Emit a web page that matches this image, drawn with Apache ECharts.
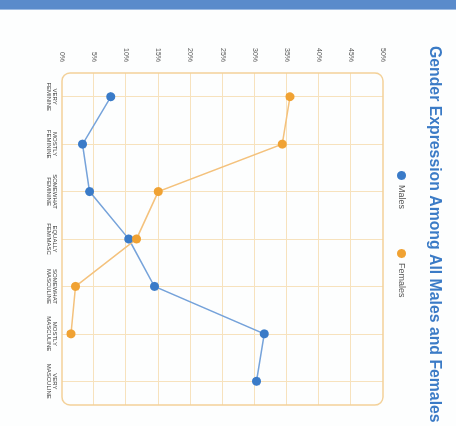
<!DOCTYPE html>
<html>
<head>
<meta charset="utf-8">
<script src="https://cdn.jsdelivr.net/npm/echarts@6/dist/echarts.min.js"></script>
<style>
html,body{margin:0;padding:0;width:456px;height:426px;overflow:hidden;background:#fdfefe;}
#c{position:absolute;left:0;top:0;width:426px;height:456px;transform-origin:0 0;transform:translateX(456px) rotate(90deg);}
</style>
</head>
<body>
<div id="c"></div>
<script>
const categories = ["VERY FEMININE","MOSTLY FEMININE","SOMEWHAT FEMININE","EQUALLY FEM/MASC","SOMEWHAT MASCULINE","MOSTLY MASCULINE","VERY MASCULINE"];
const males = [7.6, 3.2, 4.3, 10.4, 14.4, 31.5, 30.3];
const females = [35.5, 34.3, 15.0, 11.6, 2.1, 1.4, null];
const valueTicks = {min: 0, max: 50, interval: 5};

const toPairs = arr => arr.map((v, i) => [i, v]).filter(p => p[1] !== null);

const chart = echarts.init(document.getElementById('c'));
chart.setOption({
  backgroundColor: '#fdfefe',
  animation: false,
  title: {
    text: 'Gender Expression Among All Males and Females',
    left: 41, top: 9,
    textStyle: {fontFamily: 'Liberation Sans', fontWeight: 'bold', fontSize: 15.8, color: '#3b7bc6'}
  },
  legend: {
    left: 166, top: 45,
    icon: 'circle', itemWidth: 9, itemHeight: 9, itemGap: 40,
    textStyle: {fontFamily: 'Liberation Sans', fontSize: 9, color: '#555'},
    data: ['Males', 'Females']
  },
  grid: {left: 73, right: 21, top: 73, bottom: 62},
  xAxis: {
    type: 'value', min: -0.5, max: categories.length - 0.5,
    axisLine: {show: false}, axisTick: {show: false},
    axisLabel: {
      margin: 4, fontSize: 6, lineHeight: 6.5, color: '#444', fontFamily: 'Liberation Sans',
      formatter: v => Number.isInteger(v) && categories[v] ? categories[v].replace(' ', '\n') : ''
    },
    splitLine: {show: true, showMinLine: false, showMaxLine: false, lineStyle: {color: '#f7e2bd', width: 1}}
  },
  yAxis: {
    type: 'value', min: valueTicks.min, max: valueTicks.max, interval: valueTicks.interval,
    axisLine: {show: false}, axisTick: {show: false},
    axisLabel: {margin: 11, fontSize: 7, color: '#555', fontFamily: 'Liberation Sans', formatter: '{value}%'},
    splitLine: {show: true, showMinLine: false, showMaxLine: false, lineStyle: {color: '#f7e2bd', width: 1}}
  },
  graphic: [
    {type: 'rect', z: 100, shape: {x: 0, y: 0, width: 9, height: 456}, style: {fill: '#5a8bcb'}},
    {type: 'rect', z: 100, shape: {x: 9, y: 0, width: 1, height: 456}, style: {fill: '#9dbbe2'}},
    {type: 'rect', z: 1, shape: {x: 73, y: 73, width: 332, height: 321, r: 8}, style: {fill: 'none', stroke: '#f3d199', lineWidth: 1.5}}
  ],
  series: [
    {
      name: 'Males', type: 'line', data: toPairs(males),
      symbol: 'circle', symbolSize: 9,
      itemStyle: {color: '#3a7bc8'},
      lineStyle: {color: '#76a3da', width: 1.5}
    },
    {
      name: 'Females', type: 'line', data: toPairs(females),
      symbol: 'circle', symbolSize: 9,
      itemStyle: {color: '#f0a233'},
      lineStyle: {color: '#f4c27d', width: 1.5}
    }
  ]
});
</script>
</body>
</html>
